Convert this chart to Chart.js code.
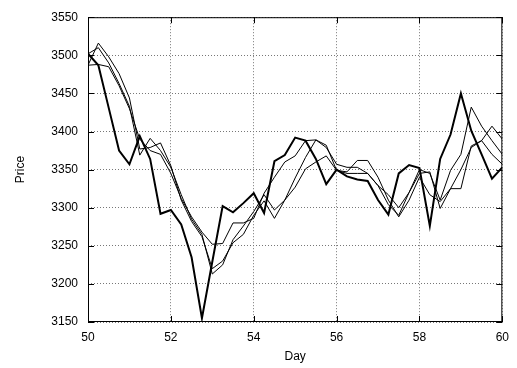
<!DOCTYPE html>
<html lang="en">
<head>
  <meta charset="UTF-8">
  <title>Price by Day</title>
  <script src="https://cdn.jsdelivr.net/npm/chart.js"></script>
  <style>
    body { margin: 0; background: #fff; }
  </style>
</head>
<body>
  <canvas id="myChart" width="517" height="368"></canvas>
<script>
  const days = [50, 50.25, 50.5, 50.75, 51, 51.25, 51.5, 51.75, 52, 52.25, 52.5, 52.75, 53, 53.25, 53.5, 53.75,
    54, 54.25, 54.5, 54.75, 55, 55.25, 55.5, 55.75, 56, 56.25, 56.5, 56.75, 57, 57.25, 57.5, 57.75,
    58, 58.25, 58.5, 58.75, 59, 59.25, 59.5, 59.75, 60];

  // thick line
  const price = [3502, 3487, 3431, 3375, 3357, 3394, 3364, 3292, 3297, 3278, 3235, 3155, 3229, 3302, 3294, 3306,
    3319, 3293, 3361, 3369, 3392, 3388, 3364, 3331, 3350, 3341, 3337, 3335, 3310, 3291, 3345, 3356,
    3352, 3276, 3364, 3396, 3450, 3401, 3370, 3338, 3353];

  // thin lines
  const thinA = [3487, 3488, 3485, 3460, 3430, 3390, 3375, 3370, 3345, 3312, 3288, 3268, 3252, 3253, 3280, 3280,
    3286, 3319, 3340, 3360, 3368, 3388, 3389, 3379, 3357, 3353, 3353, 3345, 3329, 3304, 3290, 3320,
    3350, 3345, 3310, 3349, 3370, 3432, 3407, 3388, 3370];
  const thinB = [3502, 3510, 3490, 3463, 3433, 3369, 3391, 3375, 3353, 3317, 3285, 3265, 3213, 3225, 3258, 3276,
    3295, 3317, 3297, 3310, 3327, 3351, 3360, 3368, 3349, 3347, 3362, 3362, 3340, 3310, 3288, 3310,
    3340, 3317, 3308, 3325, 3325, 3381, 3388, 3370, 3357];
  const thinC = [3487, 3516, 3498, 3476, 3444, 3377, 3379, 3385, 3355, 3310, 3282, 3262, 3220, 3230, 3254, 3265,
    3290, 3309, 3286, 3310, 3339, 3366, 3389, 3382, 3349, 3345, 3345, 3345, 3329, 3317, 3300, 3320,
    3345, 3347, 3299, 3325, 3350, 3379, 3388, 3407, 3390];

  const xTicks = [50, 52, 54, 56, 58, 60];
  const yTicks = [3150, 3200, 3250, 3300, 3350, 3400, 3450, 3500, 3550];

  const pts = arr => arr.map((v, i) => ({ x: days[i], y: v }));

  // frame + inward tick marks, gnuplot style
  const frame = {
    id: 'frame',
    afterDraw(chart) {
      const { ctx, chartArea: a, scales } = chart;
      ctx.save();
      ctx.strokeStyle = '#000';
      ctx.lineWidth = 1;
      ctx.strokeRect(a.left + 0.5, a.top + 0.5, a.right - a.left - 1, a.bottom - a.top - 1);
      ctx.beginPath();
      xTicks.forEach(t => {
        const x = Math.round(scales.x.getPixelForValue(t)) + 0.5;
        ctx.moveTo(x, a.bottom); ctx.lineTo(x, a.bottom - 6);
        ctx.moveTo(x, a.top); ctx.lineTo(x, a.top + 6);
      });
      yTicks.forEach(t => {
        const y = Math.round(scales.y.getPixelForValue(t)) + 0.5;
        ctx.moveTo(a.left, y); ctx.lineTo(a.left + 6, y);
        ctx.moveTo(a.right, y); ctx.lineTo(a.right - 6, y);
      });
      ctx.stroke();
      ctx.restore();
    }
  };

  const font = { family: 'Liberation Sans, Arial, sans-serif', size: 12 };
  const thin = { borderColor: '#000', borderWidth: 1, pointRadius: 0, tension: 0 };

  new Chart(document.getElementById('myChart'), {
    type: 'line',
    data: {
      datasets: [
        { label: 'Price', data: pts(price), borderColor: '#000', borderWidth: 2, pointRadius: 0, tension: 0 },
        { label: 'A', data: pts(thinA), ...thin },
        { label: 'B', data: pts(thinB), ...thin },
        { label: 'C', data: pts(thinC), ...thin }
      ]
    },
    options: {
      responsive: false,
      animation: false,
      layout: { padding: { left: 0, right: 8, top: 13, bottom: 0 } },
      plugins: { legend: { display: false }, tooltip: { enabled: false } },
      scales: {
        x: {
          type: 'linear', min: 50, max: 60,
          afterBuildTicks: s => { s.ticks = xTicks.map(v => ({ value: v })); },
          afterFit: s => { s.height = 46; },
          grid: { color: '#777', drawTicks: false },
          border: { display: false, dash: [1, 2] },
          ticks: { color: '#000', font, padding: 8, maxRotation: 0, callback: v => String(v) },
          title: { display: true, text: 'Day', color: '#000', font, padding: { top: 4 } }
        },
        y: {
          min: 3150, max: 3550,
          afterBuildTicks: s => { s.ticks = yTicks.map(v => ({ value: v })); },
          afterFit: s => { s.width = 88; },
          grid: { color: '#777', drawTicks: false },
          border: { display: false, dash: [1, 2] },
          ticks: { color: '#000', font, padding: 10, callback: v => String(v) },
          title: { display: true, text: 'Price', color: '#000', font, padding: { top: 13, bottom: 0 } }
        }
      }
    },
    plugins: [frame]
  });
</script>
</body>
</html>
